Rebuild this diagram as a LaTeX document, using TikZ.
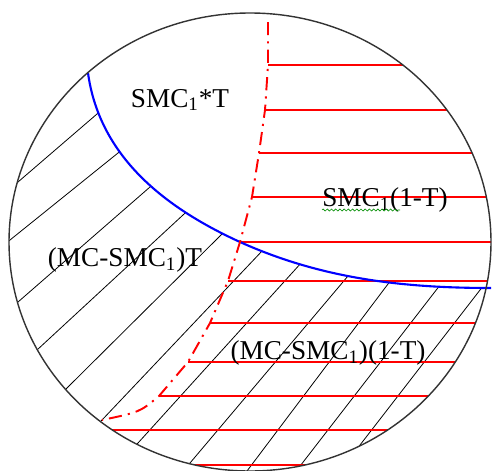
\documentclass[tikz,border=0pt]{standalone}
\usepackage{fontspec}
\setmainfont{Liberation Serif}
\usetikzlibrary{calc,decorations.pathmorphing}

\begin{document}
\begin{tikzpicture}[
    x=0.02cm, y=-0.02cm,
    rim/.style={draw=black!80, line width=0.8pt},
    border/.style={blue, line width=1.2pt},
    split/.style={red, line width=1.1pt, dash pattern=on 7.5pt off 3.5pt on 1.2pt off 3.5pt},
    redhatch/.style={red, line width=0.7pt},
    blackhatch/.style={black, line width=0.45pt},
    squiggle/.style={green!55!black, line width=0.35pt, decorate,
                     decoration={zigzag, amplitude=0.6pt, segment length=2.4pt}},
    lbl/.style={font=\fontsize{15.5}{18}\selectfont, inner sep=0pt},
]
\useasboundingbox (0,0) rectangle (493,470);
\coordinate (o) at (250,242);
\coordinate (bl) at (88,73);
\coordinate (bm) at (240,242);
\coordinate (br) at (491,288);

% Black hatching below the blue border
\begin{scope}
  \clip (o) ellipse [x radius=241, y radius=229];
  \clip (bl) .. controls (100,160) and (170,210) .. (bm)
        .. controls (320,278) and (400,288) .. (br)
        -- (500,288) -- (500,480) -- (0,480) -- (0,73) -- cycle;
  \foreach \bx/\by/\tx/\ty in {18/182/97/114, 10/240/118/153, 18/302/150/187,
        37/350/183/215, 67/388/222/234, 102/420/263/250, 138/443/302/262,
        190/463/348/276, 247/471/388/284, 297/470/437/289, 360/445/480/290}
    \draw[blackhatch] ($(\bx,\by)!-0.15!(\tx,\ty)$) -- ($(\tx,\ty)!-0.15!(\bx,\by)$);
\end{scope}

% Red hatching right of the dash-dot line
\begin{scope}
  \clip (o) ellipse [x radius=241, y radius=229];
  \foreach \sx/\sy in {268/65, 265/110, 259/153, 252/197, 240/242, 228/281,
        210/323, 188/362, 159/396, 0/430, 0/465}
    \draw[redhatch] (\sx,\sy) -- (500,\sy);
\end{scope}

% Blue border
\draw[border] (bl) .. controls (100,160) and (170,210) .. (bm)
      .. controls (320,278) and (400,288) .. (br);

% Red dash-dot line
\draw[split] (268,22) -- (268,65) -- (265,110) -- (259,153) -- (252,197) -- (bm)
      -- (228,281) -- (210,323) -- (188,362) -- (159,396) .. controls (140,412) .. (102,420);

% Circle
\draw[rim] (o) ellipse [x radius=241, y radius=229];

% Labels
\node[lbl] (smcT) at (180,100) {SMC\textsubscript{1}*T};
\node[lbl] (smcRest) at (385,200) {SMC\textsubscript{1}(1-T)};
\node[lbl] (mcT) at (125,260) {(MC-SMC\textsubscript{1})T};
\node[lbl] (mcRest) at (328,353) {(MC-SMC\textsubscript{1})(1-T)};
\draw[squiggle] (322,210) -- (400,210);

\end{tikzpicture}
\end{document}
